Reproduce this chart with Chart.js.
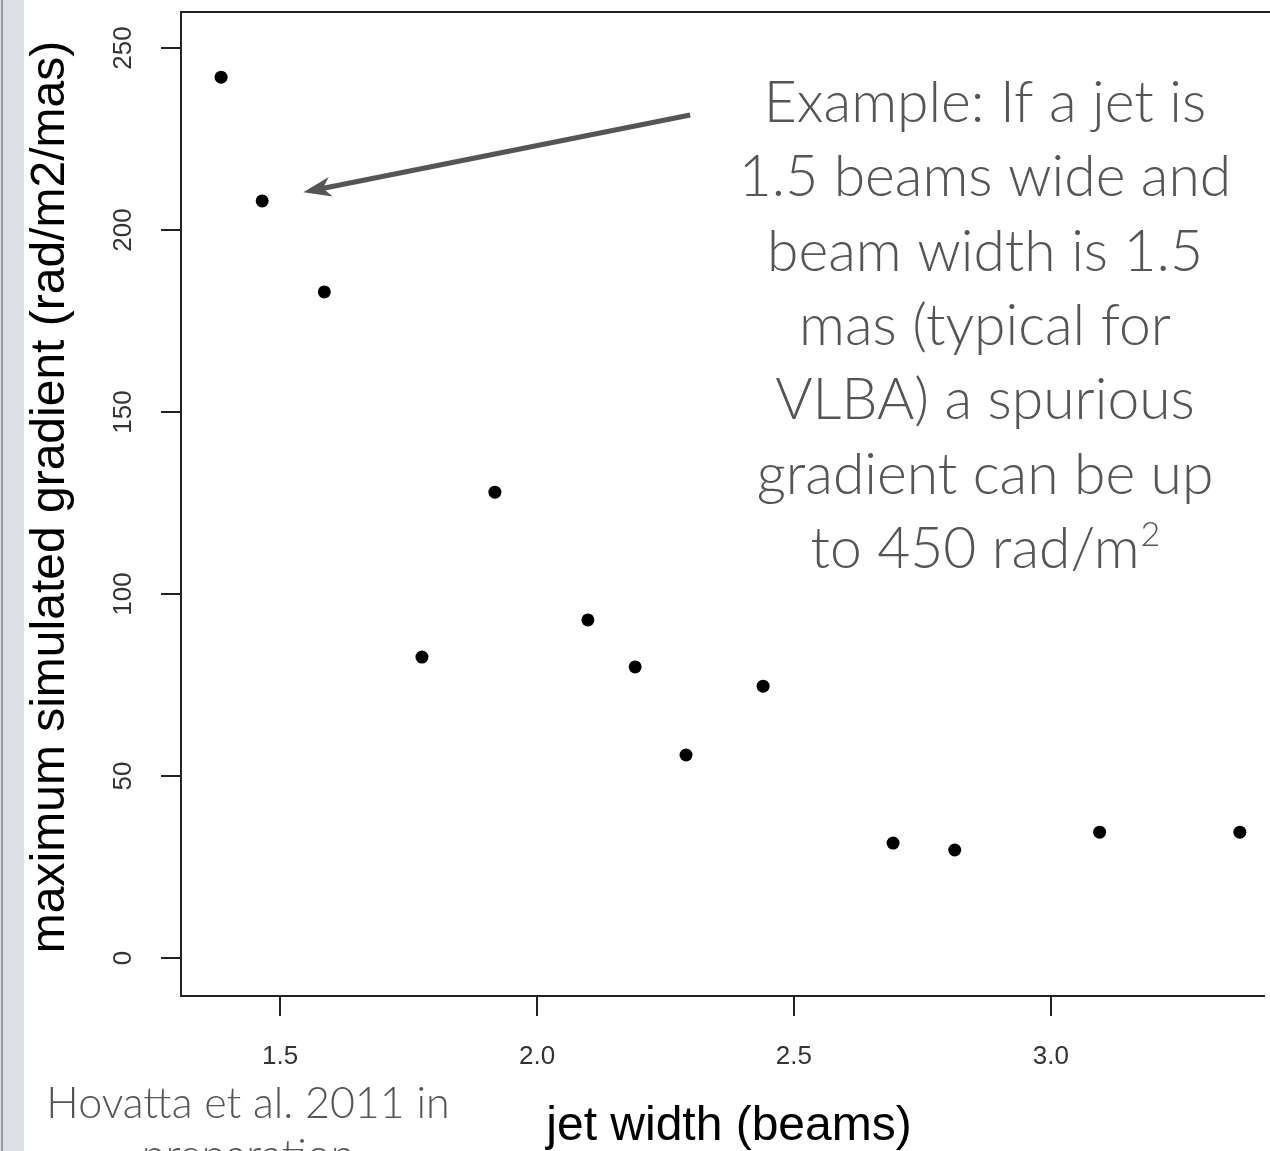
<!DOCTYPE html>
<html>
<head>
<meta charset="utf-8">
<script src="https://cdn.jsdelivr.net/npm/chart.js@4/dist/chart.umd.min.js"></script>
<style>
  html, body { margin: 0; padding: 0; background: #fff; }
  #wrap { width: 1270px; height: 1151px; position: relative; }
</style>
</head>
<body>
<div id="wrap"><canvas id="gradChart"></canvas></div>
<script>
// jet width (beams) vs maximum simulated gradient (rad/m2/mas)
var jetWidth = [1.385, 1.465, 1.586, 1.776, 1.918, 2.099, 2.191, 2.290, 2.440, 2.693, 2.813, 3.095, 3.368];
var maxGradient = [242, 208, 183, 82.7, 128, 92.9, 80, 55.8, 74.7, 31.6, 29.7, 34.6, 34.6];

var xTicks = [1.5, 2.0, 2.5, 3.0];
var yTicks = [0, 50, 100, 150, 200, 250];

var noteLines = ['Example: If a jet is', '1.5 beams wide and', 'beam width is 1.5',
  'mas (typical for', 'VLBA) a spurious', 'gradient can be up', 'to 450 rad/m'];
var citeLines = ['Hovatta et al. 2011 in', 'preparation'];

document.addEventListener('DOMContentLoaded', function () {
  var ctx = document.getElementById('gradChart').getContext('2d');

  var points = jetWidth.map(function (x, i) { return { x: x, y: maxGradient[i] }; });

  var extras = {
    id: 'extras',
    beforeDraw: function (chart) {
      var c = chart.ctx;
      c.save();
      // slide edge on the left
      c.fillStyle = '#dde0e5';
      c.fillRect(0, 0, 24, chart.height);
      c.fillStyle = '#9a9a9a';
      c.fillRect(1, 0, 2, chart.height);
      c.restore();
    },
    afterDraw: function (chart) {
      var c = chart.ctx;
      var xs = chart.scales.x, ys = chart.scales.y;
      var area = chart.chartArea;
      c.save();

      // top of the box
      c.strokeStyle = '#222';
      c.lineWidth = 2;
      c.beginPath();
      c.moveTo(area.left, area.top);
      c.lineTo(chart.width, area.top);
      c.stroke();

      // rotated y tick labels (R style)
      c.fillStyle = '#333';
      c.font = '26px "Liberation Sans", Arial, sans-serif';
      c.textAlign = 'center';
      c.textBaseline = 'middle';
      yTicks.forEach(function (v) {
        c.save();
        c.translate(124, ys.getPixelForValue(v));
        c.rotate(-Math.PI / 2);
        c.fillText(String(v), 0, 0);
        c.restore();
      });

      // axis titles
      c.fillStyle = '#000';
      c.font = '48px "Liberation Sans", Arial, sans-serif';
      c.textBaseline = 'alphabetic';
      c.fillText('jet width (beams)', 729, 1140);
      c.save();
      c.translate(64, 497);
      c.rotate(-Math.PI / 2);
      c.fillText('maximum simulated gradient (rad/m2/mas)', 0, 0);
      c.restore();

      // arrow pointing at the point near 1.5 beams
      var x0 = xs.getPixelForValue(2.298), y0 = ys.getPixelForValue(231.6);
      var x1 = xs.getPixelForValue(1.545), y1 = ys.getPixelForValue(210.4);
      var ang = Math.atan2(y1 - y0, x1 - x0);
      c.strokeStyle = '#555';
      c.fillStyle = '#555';
      c.lineWidth = 5;
      c.beginPath();
      c.moveTo(x0, y0);
      c.lineTo(x1 - 18 * Math.cos(ang), y1 - 18 * Math.sin(ang));
      c.stroke();
      c.beginPath();
      c.moveTo(x1, y1);
      c.lineTo(x1 - 28 * Math.cos(ang) + 10 * Math.sin(ang), y1 - 28 * Math.sin(ang) - 10 * Math.cos(ang));
      c.lineTo(x1 - 20 * Math.cos(ang), y1 - 20 * Math.sin(ang));
      c.lineTo(x1 - 28 * Math.cos(ang) - 10 * Math.sin(ang), y1 - 28 * Math.sin(ang) + 10 * Math.cos(ang));
      c.closePath();
      c.fill();

      // annotation text
      c.fillStyle = '#555';
      c.font = '300 57px Lato, "Open Sans", sans-serif';
      c.textAlign = 'center';
      noteLines.forEach(function (t, i) {
        var y = 122 + i * 74.3;
        if (i === noteLines.length - 1) {
          var w = c.measureText(t).width;
          c.fillText(t, 985 - 10, y);
          c.font = '300 34px Lato, "Open Sans", sans-serif';
          c.textAlign = 'left';
          c.fillText('2', 985 - 10 + w / 2 + 1, y - 22);
        } else {
          c.fillText(t, 985, y);
        }
      });

      // citation
      c.font = '300 43px Lato, "Open Sans", sans-serif';
      c.textAlign = 'center';
      c.fillText(citeLines[0], 248, 1118);
      c.fillText(citeLines[1], 248, 1170);

      c.restore();
    }
  };

  new Chart(ctx, {
    type: 'scatter',
    data: {
      datasets: [{
        data: points,
        backgroundColor: '#000',
        borderWidth: 0,
        pointRadius: 6.5,
        pointHoverRadius: 6.5
      }]
    },
    options: {
      responsive: true,
      maintainAspectRatio: false,
      animation: false,
      events: [],
      layout: { padding: { top: 12, right: 0, left: 0, bottom: 0 } },
      plugins: {
        legend: { display: false },
        tooltip: { enabled: false }
      },
      scales: {
        x: {
          type: 'linear',
          min: 1.307,
          max: 3.414,
          afterBuildTicks: function (s) { s.ticks = xTicks.map(function (v) { return { value: v }; }); },
          afterFit: function (s) { s.height = 155; },
          border: { display: true, color: '#222', width: 2 },
          grid: { drawOnChartArea: false, drawTicks: true, tickLength: 20, color: '#222', lineWidth: 2 },
          ticks: {
            autoSkip: false,
            maxRotation: 0,
            padding: 25,
            color: '#333',
            font: { family: '"Liberation Sans", Arial, sans-serif', size: 26 },
            callback: function (v) { return v.toFixed(1); }
          }
        },
        y: {
          type: 'linear',
          min: -10.4,
          max: 259.9,
          afterBuildTicks: function (s) { s.ticks = yTicks.map(function (v) { return { value: v }; }); },
          afterFit: function (s) { s.width = 181; },
          border: { display: true, color: '#222', width: 2 },
          grid: { drawOnChartArea: false, drawTicks: true, tickLength: 20, color: '#222', lineWidth: 2 },
          ticks: { display: false }
        }
      }
    },
    plugins: [extras]
  });
});
</script>
</body>
</html>
